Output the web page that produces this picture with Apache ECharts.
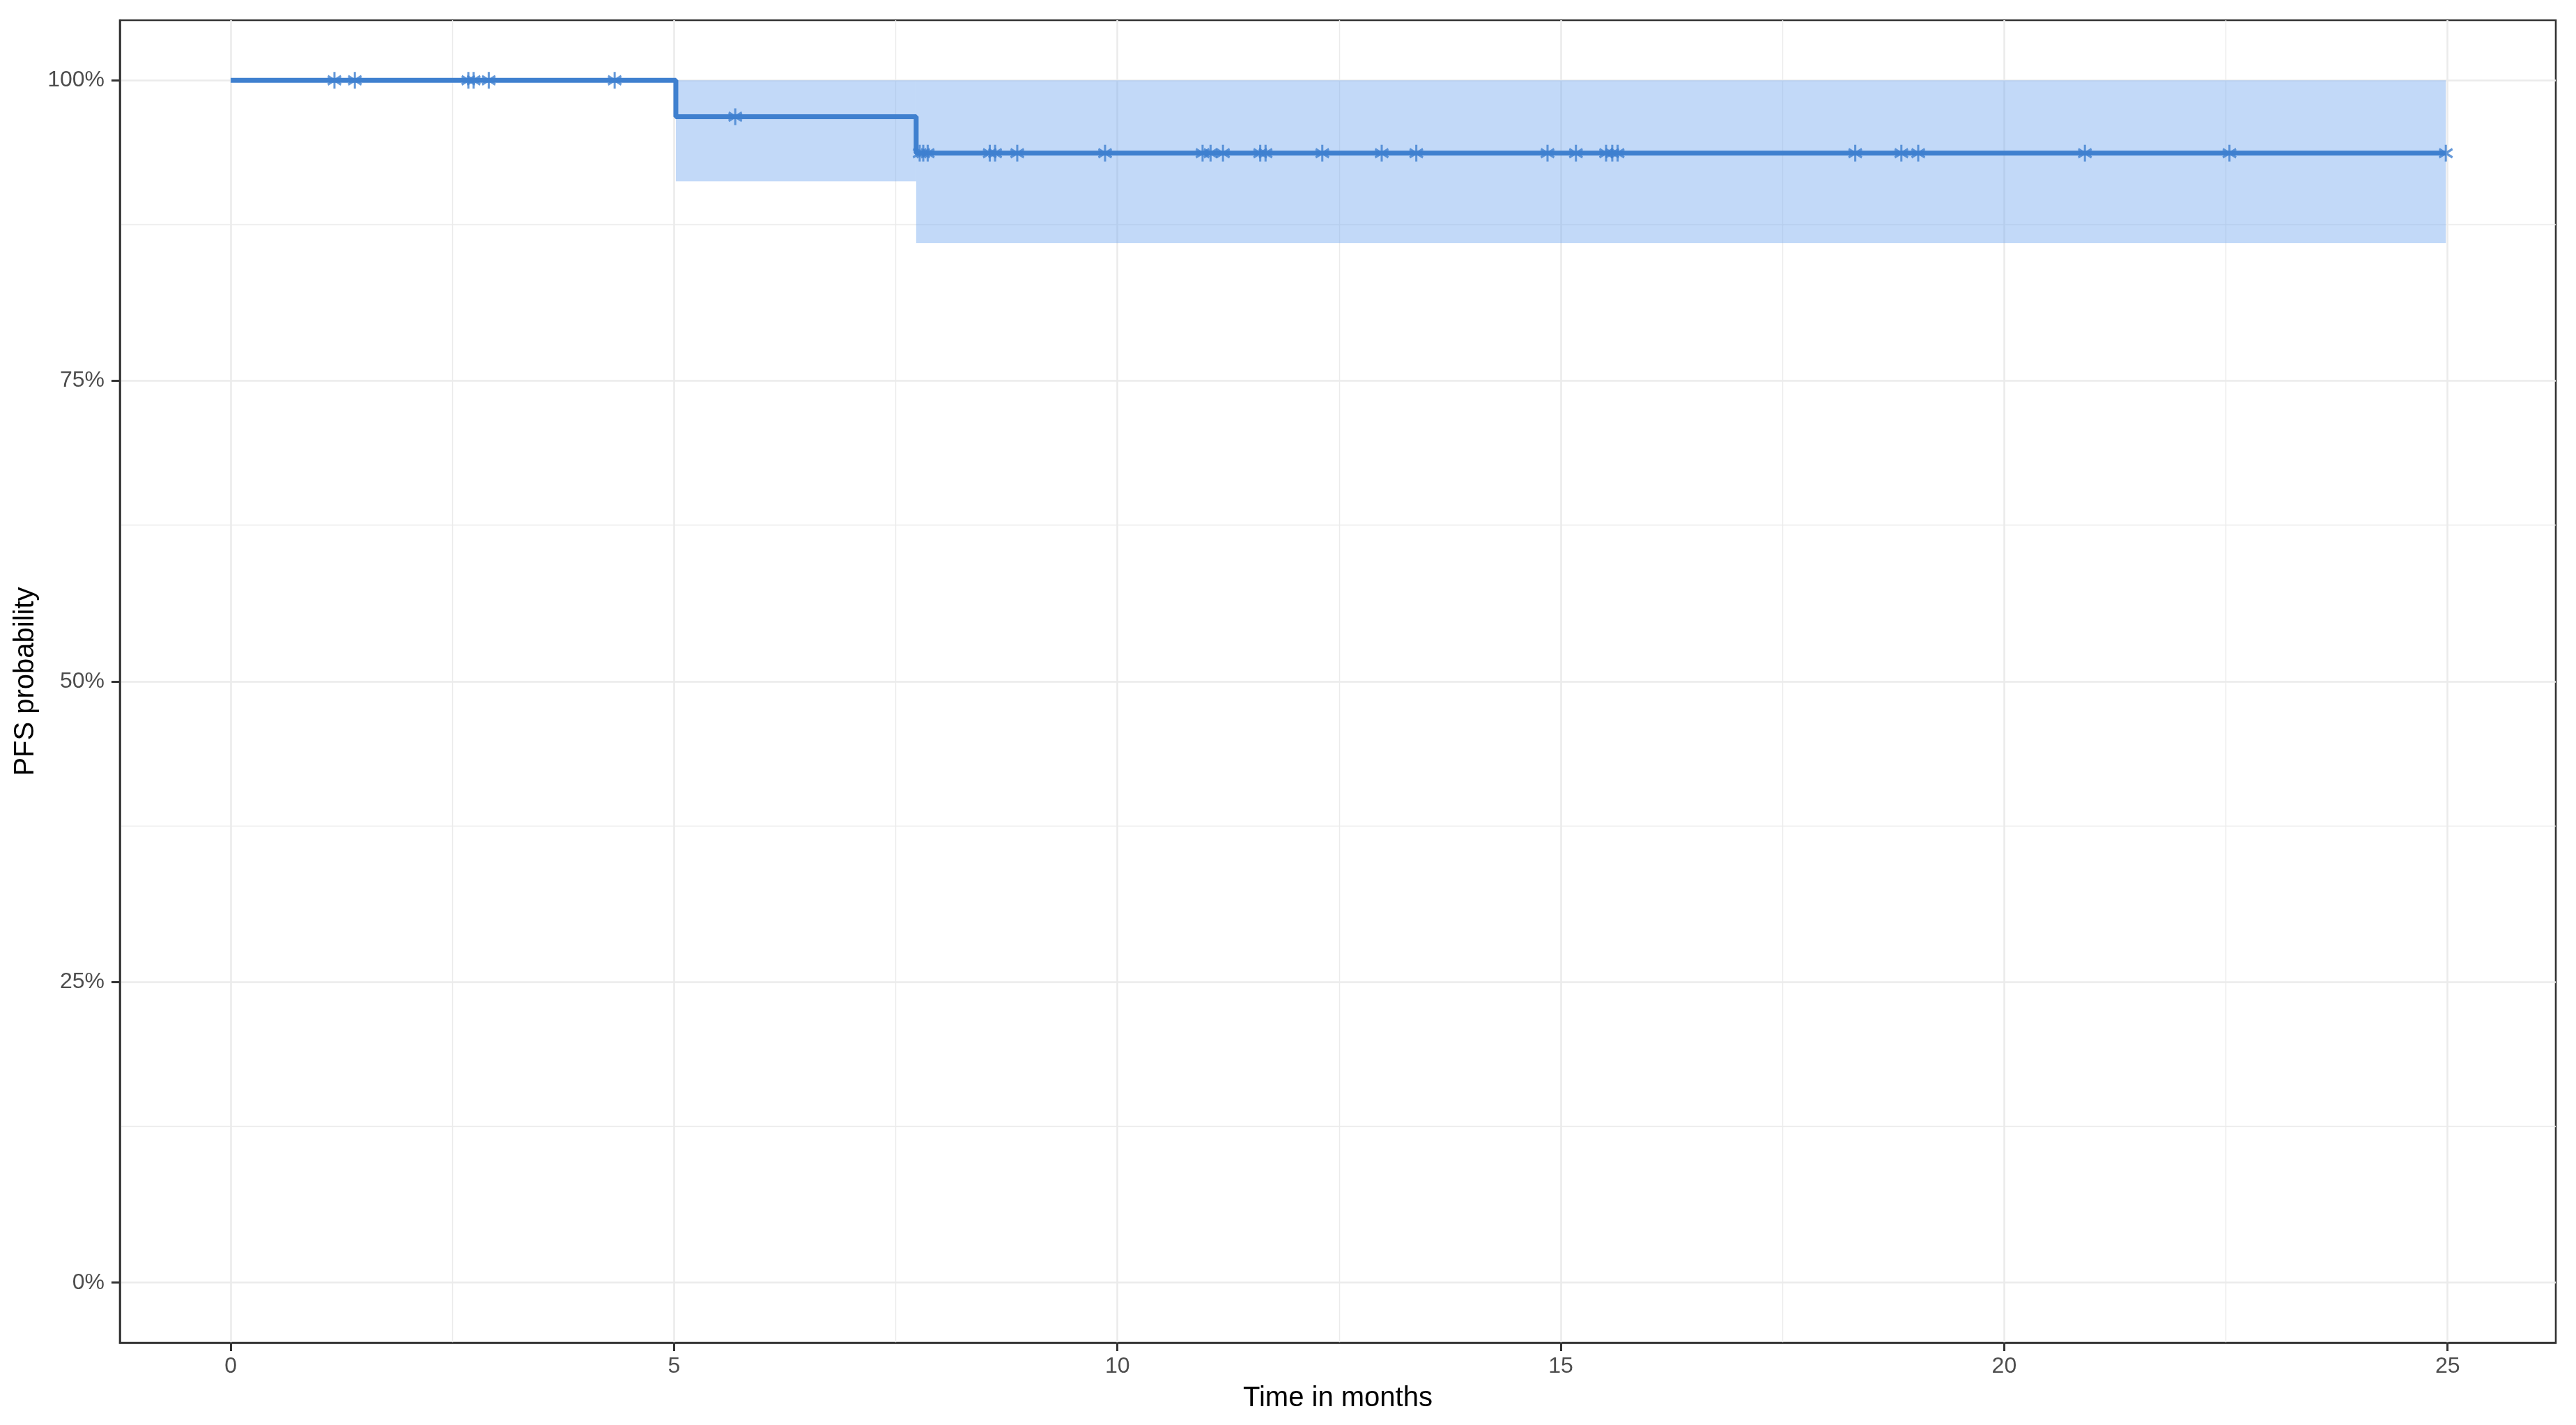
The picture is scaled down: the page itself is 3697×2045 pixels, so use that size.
<!DOCTYPE html>
<html>
<head>
<meta charset="utf-8">
<script src="https://cdn.jsdelivr.net/npm/echarts@6/dist/echarts.min.js"></script>
<style>
html,body{margin:0;padding:0;background:#fff;}
#c{width:3697px;height:2045px;}
</style>
</head>
<body>
<div id="c"></div>
<script>
// ---- data ----
const kmTime = [0, 5.02, 7.73, 24.98];
const kmSurv = [1, 0.9697, 0.9394, 0.9394];

const ciStart = [5.02, 7.73];
const ciEnd   = [7.73, 24.98];
const ciLow   = [0.916, 0.8645];
const ciHigh  = [1.0, 1.0];

const censor100 = [1.17, 1.40, 2.68, 2.74, 2.91, 4.33];
const censor97  = [5.69];
const censor94  = [7.77, 7.81, 7.86, 8.56, 8.62, 8.87, 9.86, 10.96, 11.05, 11.19,
                   11.61, 11.67, 12.31, 12.98, 13.37, 14.85, 15.17, 15.51, 15.58, 15.64,
                   18.32, 18.84, 19.03, 20.91, 22.54, 24.98];

const xTicks = [0, 5, 10, 15, 20, 25];
const xMinor = [2.5, 7.5, 12.5, 17.5, 22.5];
const yTicks = [0, 0.25, 0.5, 0.75, 1];
const yMinor = [0.125, 0.375, 0.625, 0.875];

const xTitle = 'Time in months';
const yTitle = 'PFS probability';

// ---- build ----
const lineColor = '#3F80CF';
const bandColor = 'rgba(120,170,240,0.45)';
const gridColor = '#EBEBEB';
const inkColor = '#333333';

const kmData = kmTime.map((t, i) => [t, kmSurv[i]]);
const bandData = ciStart.map((s, i) => [s, ciEnd[i], ciLow[i], ciHigh[i]]);
const censorData = []
  .concat(censor100.map(t => [t, kmSurv[0]]))
  .concat(censor97.map(t => [t, kmSurv[1]]))
  .concat(censor94.map(t => [t, kmSurv[2]]));

const gridLines = []
  .concat(xTicks.map(v => ({xAxis: v, lineStyle: {width: 2.6}})))
  .concat(xMinor.map(v => ({xAxis: v, lineStyle: {width: 1.4}})))
  .concat(yTicks.map(v => ({yAxis: v, lineStyle: {width: 2.6}})))
  .concat(yMinor.map(v => ({yAxis: v, lineStyle: {width: 1.4}})));

const chart = echarts.init(document.getElementById('c'), null, {renderer: 'canvas', devicePixelRatio: 1});

const font = "'Liberation Sans', Arial, sans-serif";

chart.setOption({
  animation: false,
  backgroundColor: '#ffffff',
  grid: {
    left: 172, right: 29, top: 29, bottom: 118,
    show: true, borderColor: inkColor, borderWidth: 2.6, backgroundColor: 'transparent'
  },
  xAxis: {
    type: 'value', min: -1.25, max: 26.22, position: 'bottom',
    axisLine: {show: true, onZero: false, lineStyle: {color: inkColor, width: 2.6}},
    splitLine: {show: false},
    axisTick: {show: true, inside: false, customValues: xTicks, length: 12, lineStyle: {color: inkColor, width: 3}},
    axisLabel: {customValues: xTicks, margin: 18, fontSize: 32, color: '#4D4D4D', fontFamily: font},
    name: xTitle, nameLocation: 'middle', nameGap: 60,
    nameTextStyle: {fontSize: 40, color: '#000', fontFamily: font}
  },
  yAxis: {
    type: 'value', min: -0.05, max: 1.05, position: 'left',
    axisLine: {show: true, onZero: false, lineStyle: {color: inkColor, width: 2.6}},
    splitLine: {show: false},
    axisTick: {show: true, inside: false, customValues: yTicks, length: 12, lineStyle: {color: inkColor, width: 3}},
    axisLabel: {customValues: yTicks, margin: 22, fontSize: 32, color: '#4D4D4D', fontFamily: font,
      formatter: v => Math.round(v * 100) + '%'},
    name: yTitle, nameLocation: 'middle', nameGap: 112, nameRotate: 90,
    nameTextStyle: {fontSize: 40, color: '#000', fontFamily: font}
  },
  series: [
    {
      type: 'line', data: [], z: 0, silent: true,
      markLine: {
        z: 0, zlevel: 0,
        silent: true, symbol: ['none', 'none'], animation: false,
        label: {show: false},
        lineStyle: {color: gridColor, type: 'solid'},
        emphasis: {disabled: true},
        data: gridLines
      }
    },
    {
      type: 'custom', z: 10, silent: true,
      data: bandData,
      renderItem: function (params, api) {
        const p0 = api.coord([api.value(0), api.value(3)]);
        const p1 = api.coord([api.value(1), api.value(2)]);
        return {
          type: 'rect',
          shape: {x: p0[0], y: p0[1], width: p1[0] - p0[0], height: p1[1] - p0[1]},
          style: {fill: bandColor}
        };
      }
    },
    {
      type: 'line', z: 11, step: 'end', data: kmData, showSymbol: false, silent: true,
      lineStyle: {color: lineColor, width: 7}
    },
    {
      type: 'scatter', z: 12, silent: true, data: censorData,
      symbol: 'path://M10,0L10,20M1.34,5L18.66,15M1.34,15L18.66,5',
      symbolSize: [19, 24], symbolKeepAspect: false,
      itemStyle: {color: 'rgba(0,0,0,0)', borderColor: lineColor, borderWidth: 3.4}
    }
  ]
});
</script>
</body>
</html>
